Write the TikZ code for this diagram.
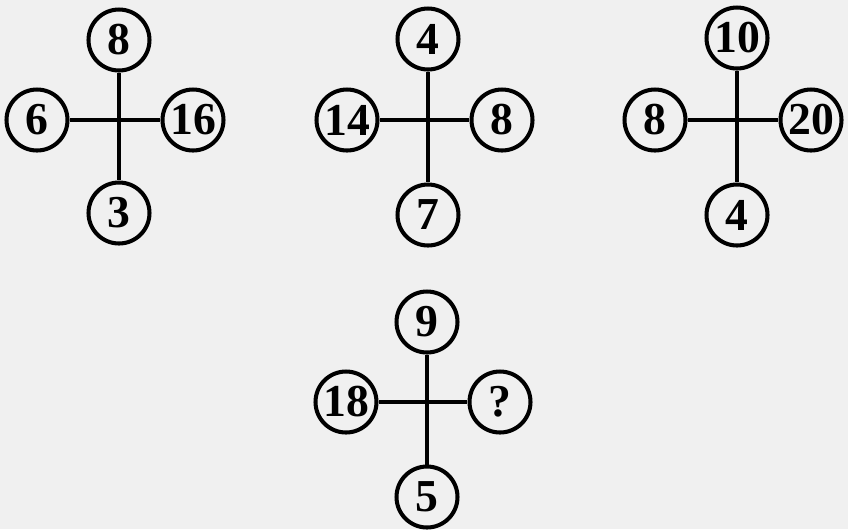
\documentclass[tikz,border=0pt]{standalone}
\usepackage{fontspec}
\setmainfont{Liberation Serif}
\usepackage{tikz}

\begin{document}
\begin{tikzpicture}[
    x=0.02cm, y=-0.02cm,
    num/.style={draw, circle, line width=2.3pt, minimum size=1.22cm, inner sep=0pt,
      font=\fontsize{26}{26}\selectfont\bfseries, fill=black!6},
    bar/.style={line width=2.3pt},
  ]
    % Background
    \fill[black!6] (0,0) rectangle (848,529);
    \useasboundingbox (0,0) rectangle (848,529);

    % Puzzle 1
    \node[num] (t1) at (119, 40) {8};
    \node[num] (l1) at (37, 120) {6};
    \node[num] (r1) at (193, 120) {16};
    \node[num] (b1) at (119, 213) {3};

    % Puzzle 2
    \node[num] (t2) at (428, 39) {4};
    \node[num] (l2) at (347, 120) {14};
    \node[num] (r2) at (502, 120) {8};
    \node[num] (b2) at (428, 215) {7};

    % Puzzle 3
    \node[num] (t3) at (737, 38) {10};
    \node[num] (l3) at (655, 120) {8};
    \node[num] (r3) at (811, 120) {20};
    \node[num] (b3) at (737, 215) {4};

    % Puzzle 4
    \node[num] (t4) at (427, 322) {9};
    \node[num] (l4) at (346, 402) {18};
    \node[num] (r4) at (500, 402) {?};
    \node[num] (b4) at (427, 497) {5};

    % Bars
    \draw[bar] (t1) -- (b1);
    \draw[bar] (l1) -- (r1);
    \draw[bar] (t2) -- (b2);
    \draw[bar] (l2) -- (r2);
    \draw[bar] (t3) -- (b3);
    \draw[bar] (l3) -- (r3);
    \draw[bar] (t4) -- (b4);
    \draw[bar] (l4) -- (r4);
  \end{tikzpicture}
\end{document}
